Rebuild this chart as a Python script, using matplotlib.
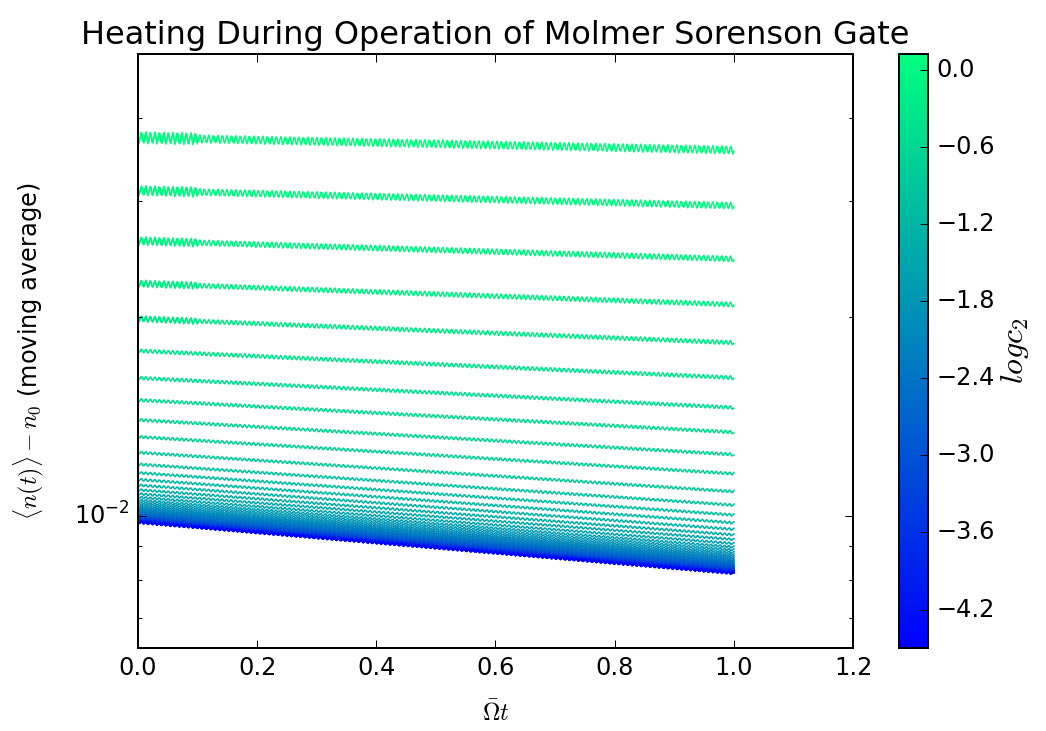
import numpy as np
import matplotlib
matplotlib.use('Agg')
import matplotlib.pyplot as plt
from matplotlib import colors, ticker, cm
from matplotlib.patches import Rectangle

plt.style.use('classic')

# start / end of the gate in units of Omega*t
t_ends = [0.0, 1.0]
# heating of the smallest-c2 run at start and end of the gate
baseline = [0.00976, 0.00817]

# log10(c2) of every run, largest first
log_c2 = [0.12, 0.03, -0.07, -0.17, -0.27, -0.37, -0.47, -0.56, -0.66, -0.76,
          -0.86, -0.96, -1.06, -1.15, -1.25, -1.35, -1.45, -1.55, -1.65, -1.75,
          -1.84, -1.94, -2.04, -2.14, -2.24, -2.34, -2.43, -2.53, -2.63, -2.73,
          -2.83, -2.93, -3.02, -3.12, -3.22, -3.32, -3.42, -3.52, -3.62, -3.71,
          -3.81, -3.91, -4.01, -4.11, -4.21, -4.30, -4.40, -4.50]

# extra <n>-n0 above the baseline for each run
excess = [0.0276, 0.0213, 0.0163, 0.0127, 0.0101, 0.0080, 0.0064, 0.0052,
          0.0042, 0.0034, 0.0027, 0.0022, 0.00185, 0.00158, 0.00136, 0.00118,
          0.00103, 0.0009, 0.00079, 0.0007, 0.00062, 0.00055, 0.00049,
          0.00044, 0.00039, 0.00035, 0.00031, 0.00028, 0.00025, 0.00022,
          0.0002, 0.00018, 0.00016, 0.00014, 0.00012, 0.00011, 9.5e-5, 8e-5,
          7e-5, 6e-5, 5e-5, 4e-5, 3.2e-5, 2.5e-5, 1.8e-5, 1.2e-5, 6e-6, 0.0]

cbar_ticks = [0.0, -0.6, -1.2, -1.8, -2.4, -3.0, -3.6, -4.2]
x_ticks = [0.0, 0.2, 0.4, 0.6, 0.8, 1.0, 1.2]

dpi = 144
fig = plt.figure(figsize=(1046. / dpi, 731. / dpi), dpi=dpi, facecolor='white')
ax = fig.add_axes([0.1319, 0.1135, 0.6836, 0.8126])
cax = fig.add_axes([0.8595, 0.1135, 0.0277, 0.8126])

norm = colors.Normalize(vmin=-4.5, vmax=0.125)
cmap = plt.get_cmap('winter')

# early-time ringing is stronger, redraw the start with a bigger wiggle
early = Rectangle((0.0, 1e-4), 0.1, 1.0, transform=ax.transData)

for lc, dn in zip(log_c2, excess):
    y = [b + dn for b in baseline]
    amp = min(1.0 + 110. * dn, 4.0)
    ln, = ax.plot(t_ends, y, color=cmap(norm(lc)), lw=0.8)
    ln.set_sketch_params(amp, 4.5, 1.0)
    if dn > 0.008:
        ln2, = ax.plot(t_ends, y, color=cmap(norm(lc)), lw=0.8)
        ln2.set_sketch_params(amp * 1.5, 4.5, 1.0)
        ln2.set_clip_path(early)

ax.set_yscale('log')
ax.set_ylim(0.0063, 0.05)
ax.yaxis.set_minor_formatter(ticker.NullFormatter())
ax.set_xlim(0.0, 1.2)
ax.set_xticks(x_ticks)

ax.set_title('Heating During Operation of Molmer Sorenson Gate', fontsize=16)
ax.set_xlabel(r'$\bar{\Omega}t$', labelpad=10)
ax.set_ylabel(r'$\langle n(t) \rangle - n_0$ (moving average)', labelpad=14)

sm = cm.ScalarMappable(norm=norm, cmap=cmap)
sm.set_array([])
cb = fig.colorbar(sm, cax=cax)
cb.set_ticks(cbar_ticks)
cb.set_label(r'$log c_2$', fontsize=16, labelpad=2)

fig.savefig('out.png', dpi=dpi, facecolor='white')
